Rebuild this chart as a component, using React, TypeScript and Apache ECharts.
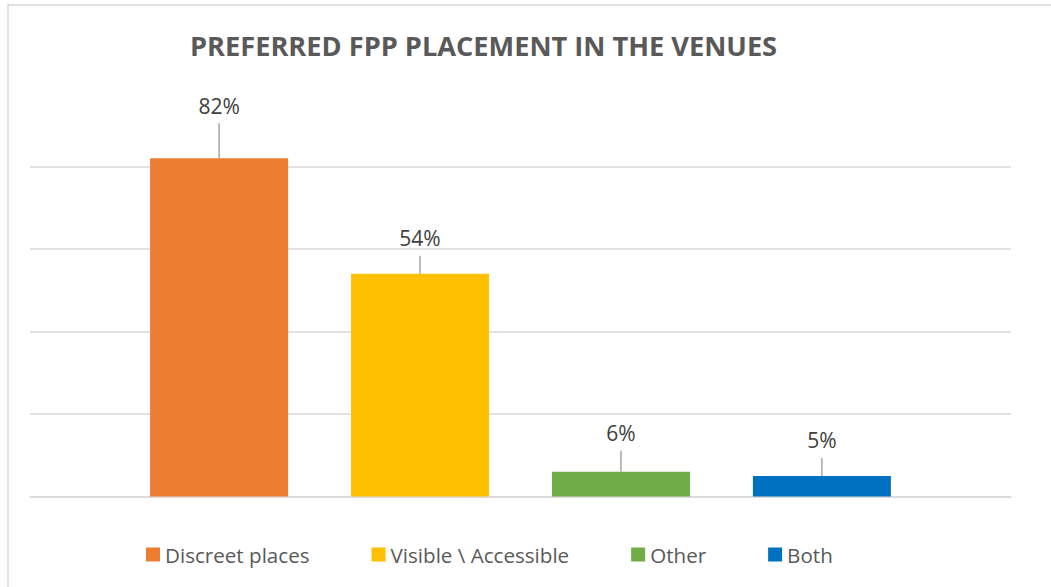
import React, { useEffect, useRef } from "react";
import * as echarts from "echarts";

const categories = [""];
const seriesNames = ["Discreet places", "Visible \\ Accessible", "Other", "Both"];
const seriesValues = [82, 54, 6, 5];
const seriesColors = ["#ED7D31", "#FFC000", "#70AD47", "#0070C0"];
const labelShift = [-35, -18, -21, -18];
const yTicks = [0, 20, 40, 60, 80, 100];

export default function App() {
  const ref = useRef<HTMLDivElement>(null);
  useEffect(() => {
    if (!ref.current) return;
    const chart = echarts.init(ref.current, null, { renderer: "svg" });
    const font = "'Open Sans', sans-serif";
    chart.setOption({
      animation: false,
      backgroundColor: "#ffffff",
      title: {
        text: "PREFERRED FPP PLACEMENT IN THE VENUES",
        left: 185,
        top: 27,
        textStyle: {
          fontFamily: font,
          fontWeight: "bold",
          fontSize: 27.2,
          color: "#595959",
        },
      },
      graphic: [
        {
          type: "rect",
          z: -10,
          silent: true,
          shape: { x: 8, y: 5, width: 1200, height: 800 },
          style: { fill: "none", stroke: "#d9d9d9", lineWidth: 1.5 },
        },
      ],
      legend: {
        bottom: 17,
        left: 141,
        itemWidth: 14,
        itemHeight: 14,
        itemGap: 62,
        icon: "rect",
        textStyle: { fontFamily: font, fontSize: 20.6, color: "#595959" },
        data: seriesNames,
      },
      grid: { left: 30, right: 40, top: 84, bottom: 90.5, containLabel: false },
      xAxis: {
        type: "category",
        data: categories,
        axisLine: { show: true, lineStyle: { color: "#d9d9d9", width: 1.5 } },
        axisTick: { show: false },
        axisLabel: { show: false },
      },
      yAxis: {
        type: "value",
        min: yTicks[0],
        max: yTicks[yTicks.length - 1],
        interval: 20,
        axisLabel: { show: false },
        axisLine: { show: false },
        axisTick: { show: false },
        splitLine: {
          lineStyle: {
            color: ["#d9d9d9", "#d9d9d9", "#d9d9d9", "#d9d9d9", "#d9d9d9", "rgba(0,0,0,0)"],
            width: 1.5,
          },
        },
      },
      series: seriesNames.map((name, i) => ({
        name,
        type: "bar",
        data: [seriesValues[i]],
        barWidth: 138,
        barGap: "45.6%",
        itemStyle: { color: seriesColors[i] },
        label: {
          show: true,
          position: "top",
          distance: 0,
          formatter: "{c}%",
          fontFamily: font,
          fontSize: 21,
          lineHeight: 21,
          color: "#404040",
          padding: [0, 0, 7, 0],
        },
        labelLayout: { dy: labelShift[i] },
        labelLine: { show: true, lineStyle: { color: "#a6a6a6", width: 1.5 } },
      })),
    });
    return () => chart.dispose();
  }, []);
  return (
    <div
      ref={ref}
      style={{ position: "fixed", left: 0, top: 0, width: 1051, height: 587 }}
    />
  );
}
